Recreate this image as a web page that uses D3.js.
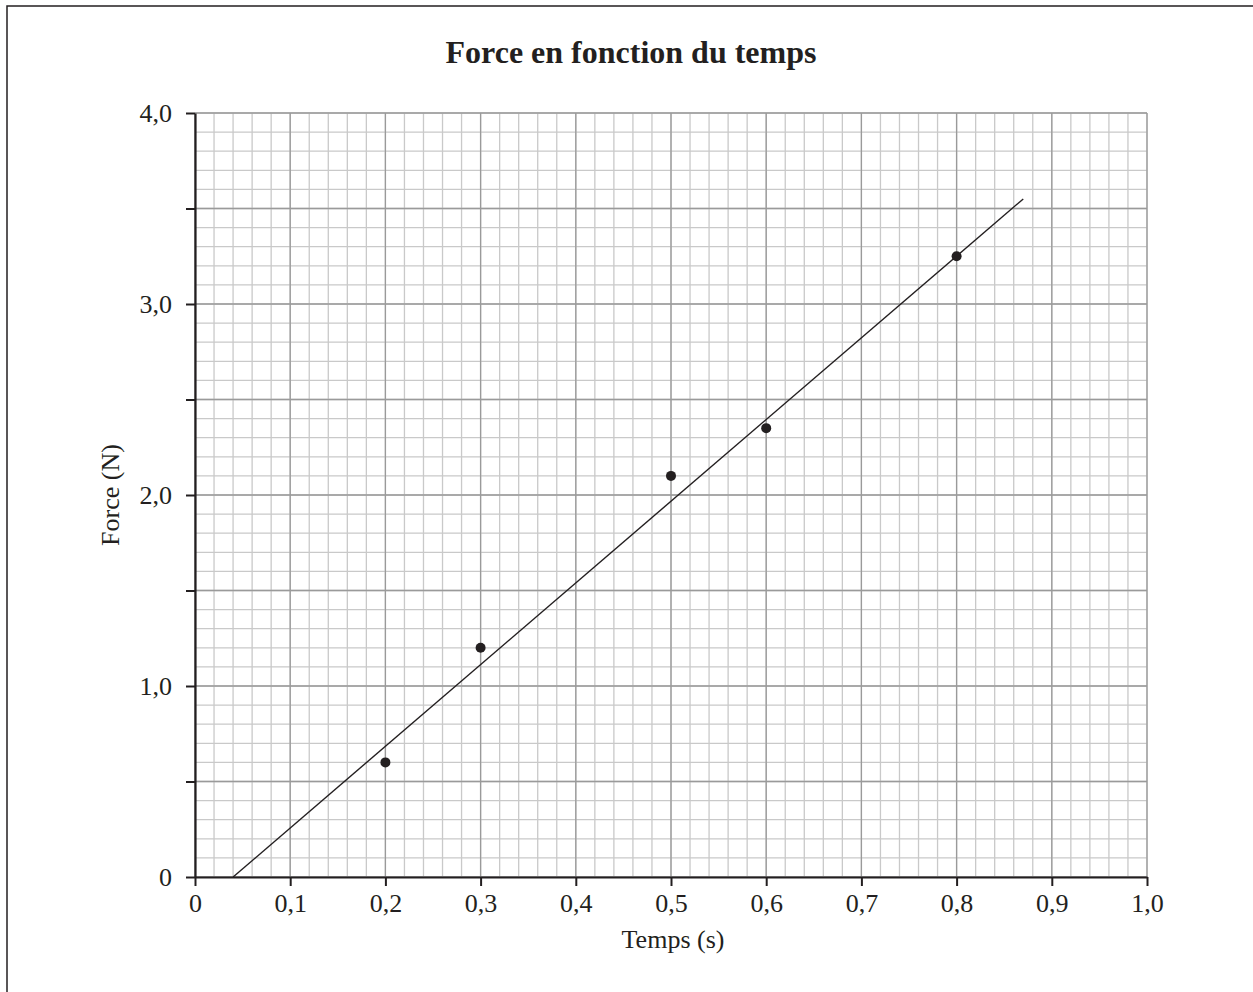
<!DOCTYPE html>
<html><head><meta charset="utf-8">
<script src="https://cdn.jsdelivr.net/npm/d3@7"></script>
<style>body{margin:0;background:#fff}svg{display:block}</style>
</head><body>
<script>
const title = "Force en fonction du temps";
const xLabel = "Temps (s)";
const yLabel = "Force (N)";
const times = [0.2, 0.3, 0.5, 0.6, 0.8];
const forces = [0.6, 1.2, 2.1, 2.35, 3.25];
const fitLineX = [0.04, 0.87];
const fitLineY = [0, 3.55];
const xTicks = [0,0.1,0.2,0.3,0.4,0.5,0.6,0.7,0.8,0.9,1.0];
const xTickLabels = ["0","0,1","0,2","0,3","0,4","0,5","0,6","0,7","0,8","0,9","1,0"];
const yTicks = [0,0.5,1.0,1.5,2.0,2.5,3.0,3.5,4.0];
const yTickLabels = ["0","","1,0","","2,0","","3,0","","4,0"];

const W=1253,H=992;
const svg=d3.select("body").append("svg").attr("width",W).attr("height",H);
svg.append("rect").attr("x",7).attr("y",6).attr("width",1270).attr("height",1010)
  .attr("fill","none").attr("stroke","#231f20").attr("stroke-width",1.5);

const x=d3.scaleLinear().domain([0,1]).range([195,1147]);
const y=d3.scaleLinear().domain([0,4]).range([877,113]);
const font="'Liberation Serif','Times New Roman',serif";
const ink="#231f20";

const g=svg.append("g");
// minor grid
const minorX=d3.range(0,51).map(i=>i/50);
const minorY=d3.range(0,41).map(i=>i/10);
g.selectAll(".mx").data(minorX).enter().append("line")
  .attr("x1",d=>x(d)).attr("x2",d=>x(d)).attr("y1",y(0)).attr("y2",y(4))
  .attr("stroke","#c9c9c9").attr("stroke-width",1.3);
g.selectAll(".my").data(minorY).enter().append("line")
  .attr("y1",d=>y(d)).attr("y2",d=>y(d)).attr("x1",x(0)).attr("x2",x(1))
  .attr("stroke","#c9c9c9").attr("stroke-width",1.3);
// major grid
g.selectAll(".Mx").data(xTicks).enter().append("line")
  .attr("x1",d=>x(d)).attr("x2",d=>x(d)).attr("y1",y(0)).attr("y2",y(4))
  .attr("stroke","#9a9a9a").attr("stroke-width",1.3);
g.selectAll(".My").data(yTicks).enter().append("line")
  .attr("y1",d=>y(d)).attr("y2",d=>y(d)).attr("x1",x(0)).attr("x2",x(1))
  .attr("stroke","#9a9a9a").attr("stroke-width",1.3);

// axes
const xa=svg.append("g").attr("transform",`translate(0,${y(0)})`)
  .call(d3.axisBottom(x).tickValues(xTicks).tickFormat((d,i)=>xTickLabels[i]).tickSizeOuter(0).tickSizeInner(9).tickPadding(8));
const ya=svg.append("g").attr("transform",`translate(${x(0)},0)`)
  .call(d3.axisLeft(y).tickValues(yTicks).tickFormat((d,i)=>yTickLabels[i]).tickSizeOuter(0).tickSizeInner(9).tickPadding(14));
[xa,ya].forEach(a=>{
  a.select(".domain").attr("stroke",ink).attr("stroke-width",2.2);
  a.selectAll(".tick line").attr("stroke",ink).attr("stroke-width",2);
  a.selectAll("text").attr("font-family",font).attr("font-size",26).attr("fill",ink);
});
xa.selectAll("text").attr("dy","0.71em");

// fit line
svg.append("line").attr("x1",x(fitLineX[0])).attr("y1",y(fitLineY[0]))
  .attr("x2",x(fitLineX[1])).attr("y2",y(fitLineY[1]))
  .attr("stroke",ink).attr("stroke-width",1.4);

// points
svg.selectAll(".pt").data(times).enter().append("circle")
  .attr("cx",d=>x(d)).attr("cy",(d,i)=>y(forces[i])).attr("r",5).attr("fill",ink);

// titles
svg.append("text").attr("x",631).attr("y",63).attr("text-anchor","middle")
  .attr("font-family",font).attr("font-weight","bold").attr("font-size",32).attr("fill",ink).text(title);
svg.append("text").attr("x",673).attr("y",948).attr("text-anchor","middle")
  .attr("font-family",font).attr("font-size",26).attr("fill",ink).text(xLabel);
svg.append("text").attr("transform","translate(119,495) rotate(-90)").attr("text-anchor","middle")
  .attr("font-family",font).attr("font-size",26).attr("fill",ink).text(yLabel);
</script>
</body></html>
